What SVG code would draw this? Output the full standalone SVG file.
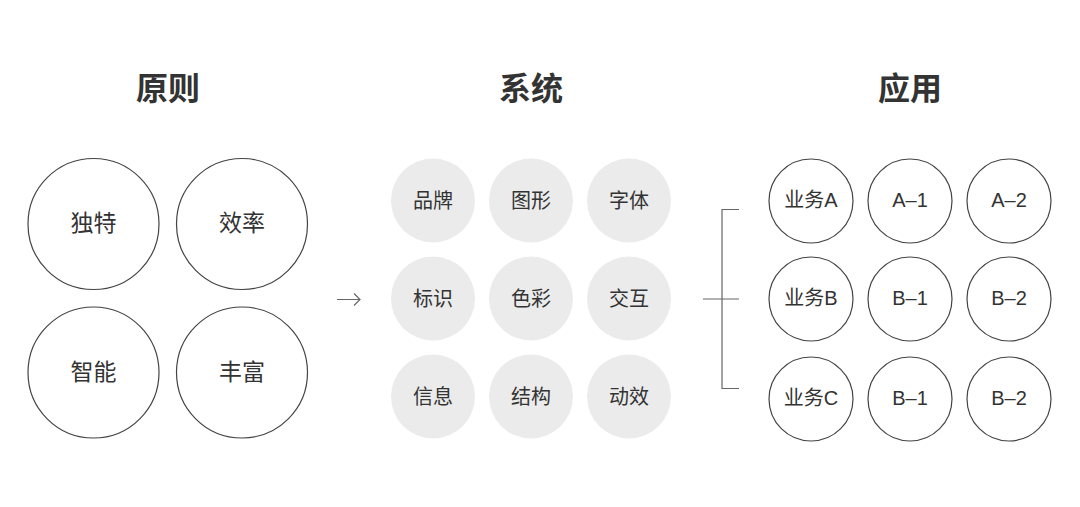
<svg xmlns="http://www.w3.org/2000/svg" width="1080" height="507" viewBox="0 0 1080 507">
<style>
.title{font-family:"Noto Sans CJK SC","Noto Sans",sans-serif;font-size:32px;font-weight:bold;fill:#333;text-anchor:middle;dominant-baseline:central}
.lbl{font-family:"Noto Sans CJK SC","Noto Sans",sans-serif;fill:#333;text-anchor:middle;dominant-baseline:central}
.lat{font-family:"Liberation Sans","Noto Sans CJK SC",sans-serif}
.big{font-size:23px}
.mid{font-size:20px}
.ring{fill:#fff;stroke:#444;stroke-width:1.2}
.disc{fill:#ebebeb;stroke:none}
.conn{fill:none;stroke:#666;stroke-width:1.2}
</style>
<rect width="1080" height="507" fill="#fff"/>
<g id="titles">
<text class="title" x="168" y="86">原则</text>
<text class="title" x="531" y="86">系统</text>
<text class="title" x="910" y="86">应用</text>
</g>
<g id="principles">
<g id="p1"><circle class="ring" cx="93.5" cy="224" r="65.5"/><text class="lbl big" x="93.5" y="221">独特</text></g>
<g id="p2"><circle class="ring" cx="242" cy="224" r="65.5"/><text class="lbl big" x="242" y="221">效率</text></g>
<g id="p3"><circle class="ring" cx="93.5" cy="372.5" r="65.5"/><text class="lbl big" x="93.5" y="370">智能</text></g>
<g id="p4"><circle class="ring" cx="242" cy="372.5" r="65.5"/><text class="lbl big" x="242" y="370">丰富</text></g>
</g>
<g id="system">
<g id="s1"><circle class="disc" cx="433" cy="200.5" r="42"/><text class="lbl mid" x="433" y="199">品牌</text></g>
<g id="s2"><circle class="disc" cx="531" cy="200.5" r="42"/><text class="lbl mid" x="531" y="199">图形</text></g>
<g id="s3"><circle class="disc" cx="629" cy="200.5" r="42"/><text class="lbl mid" x="629" y="199">字体</text></g>
<g id="s4"><circle class="disc" cx="433" cy="298.5" r="42"/><text class="lbl mid" x="433" y="297">标识</text></g>
<g id="s5"><circle class="disc" cx="531" cy="298.5" r="42"/><text class="lbl mid" x="531" y="297">色彩</text></g>
<g id="s6"><circle class="disc" cx="629" cy="298.5" r="42"/><text class="lbl mid" x="629" y="297">交互</text></g>
<g id="s7"><circle class="disc" cx="433" cy="396.5" r="42"/><text class="lbl mid" x="433" y="395">信息</text></g>
<g id="s8"><circle class="disc" cx="531" cy="396.5" r="42"/><text class="lbl mid" x="531" y="395">结构</text></g>
<g id="s9"><circle class="disc" cx="629" cy="396.5" r="42"/><text class="lbl mid" x="629" y="395">动效</text></g>
</g>
<g id="applications">
<g id="a1"><circle class="ring" cx="811" cy="201" r="42"/><text class="lbl mid lat" x="811" y="200">业务A</text></g>
<g id="a2"><circle class="ring" cx="910" cy="201" r="42"/><text class="lbl mid lat" x="910" y="200">A–1</text></g>
<g id="a3"><circle class="ring" cx="1009" cy="201" r="42"/><text class="lbl mid lat" x="1009" y="200">A–2</text></g>
<g id="a4"><circle class="ring" cx="811" cy="299" r="42"/><text class="lbl mid lat" x="811" y="298">业务B</text></g>
<g id="a5"><circle class="ring" cx="910" cy="299" r="42"/><text class="lbl mid lat" x="910" y="298">B–1</text></g>
<g id="a6"><circle class="ring" cx="1009" cy="299" r="42"/><text class="lbl mid lat" x="1009" y="298">B–2</text></g>
<g id="a7"><circle class="ring" cx="811" cy="399" r="42"/><text class="lbl mid lat" x="811" y="398">业务C</text></g>
<g id="a8"><circle class="ring" cx="910" cy="399" r="42"/><text class="lbl mid lat" x="910" y="398">B–1</text></g>
<g id="a9"><circle class="ring" cx="1009" cy="399" r="42"/><text class="lbl mid lat" x="1009" y="398">B–2</text></g>
</g>
<g id="connectors">
<path class="conn" d="M337 299.5 H360 M354 293.5 L360 299.5 L354 305.5"/>
<path class="conn" d="M739 209.5 H722 V388.5 H739 M703 299 H739"/>
</g>
</svg>
